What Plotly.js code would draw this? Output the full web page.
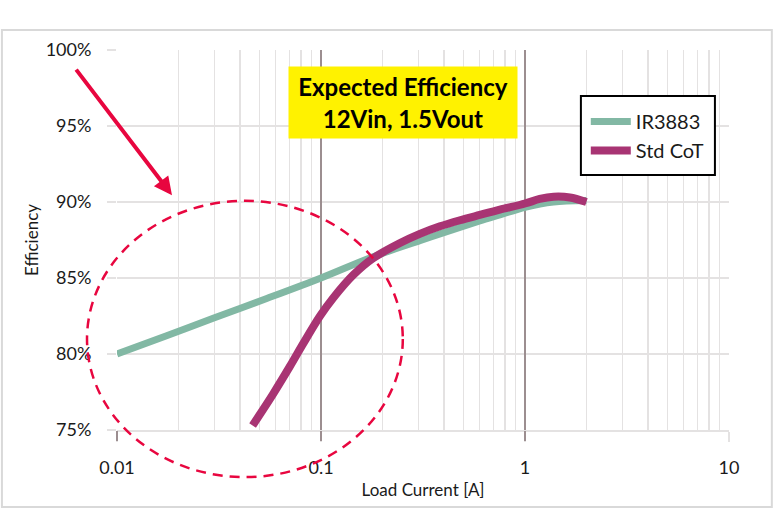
<!DOCTYPE html>
<html>
<head>
<meta charset="utf-8">
<script src="https://cdn.plot.ly/plotly-3.0.1.min.js"></script>
<style>
html,body{margin:0;padding:0;background:#fff;}
#chart{width:775px;height:513px;}
</style>
</head>
<body>
<div id="chart"></div>
<script>
// Data
const irName = 'IR3883';
const irCurrent = [0.01, 0.0175, 0.0296, 0.0542, 0.1, 0.18, 0.305, 0.383, 0.6, 0.753, 1.0, 1.38, 2.0];
const irEff = [80.0, 81.2, 82.35, 83.65, 85.0, 86.4, 87.45, 87.9, 88.75, 89.15, 89.65, 90.0, 90.1];

const cotName = 'Std CoT';
const cotCurrent = [0.0462, 0.0584, 0.0705, 0.0819, 0.0989, 0.115, 0.144, 0.18, 0.244, 0.305, 0.383, 0.48, 0.6, 0.753, 1.0, 1.18, 1.38, 1.66, 2.0];
const cotEff = [75.3, 77.4, 79.2, 80.7, 82.5, 83.7, 85.2, 86.3, 87.3, 87.9, 88.4, 88.8, 89.15, 89.5, 89.9, 90.2, 90.35, 90.3, 90.0];

const majorDecades = [0.01, 0.1, 1];
const xTitle = 'Load Current [A]';
const yTitle = 'Efficiency';
const boxText = '<b>Expected Efficiency</b><br><b>12Vin, 1.5Vout</b>';

const FONT = 'Lato, "Noto Sans", sans-serif';
const TXT = '#1a1a1a';
const LIGHT = '#e4e2e2';
const DARK = '#9c8e90';
const RED = '#e8063f';

const traces = [
  {x: irCurrent, y: irEff, name: irName, type: 'scatter', mode: 'lines',
   line: {color: '#82b8a4', width: 7, shape: 'spline', smoothing: 0.9}},
  {x: cotCurrent, y: cotEff, name: cotName, type: 'scatter', mode: 'lines',
   line: {color: '#a83473', width: 8, shape: 'spline', smoothing: 0.9}},
  {x: [], y: [], xaxis: 'x2', yaxis: 'y', showlegend: false, hoverinfo: 'skip'}
];

const layout = {
  width: 775, height: 513,
  margin: {l: 117, r: 46, t: 50, b: 83},
  paper_bgcolor: '#ffffff', plot_bgcolor: '#ffffff',
  font: {family: FONT, color: TXT, size: 18},
  showlegend: true,
  legend: {x: 0.766, y: 0.863, xanchor: 'left', yanchor: 'top',
           borderwidth: 0, bgcolor: 'rgba(0,0,0,0)', itemwidth: 40,
           font: {family: FONT, size: 20, color: TXT}},
  xaxis: {
    type: 'log', range: [-2, 1], tickmode: 'linear', tick0: 0, dtick: 1,
    exponentformat: 'none',
    showgrid: true, gridcolor: LIGHT, gridwidth: 2,
    minor: {dtick: 'D1', showgrid: true, gridcolor: LIGHT, gridwidth: 1.5, ticks: ''},
    ticks: 'outside', ticklen: 10, tickcolor: LIGHT, tickwidth: 2,
    ticklabelstandoff: 10,
    showline: true, linecolor: LIGHT, linewidth: 2, zeroline: false,
    tickfont: {family: FONT, size: 18, color: TXT},
    title: {text: xTitle, font: {family: FONT, size: 17, color: TXT}, standoff: 8}
  },
  xaxis2: {
    type: 'log', range: [-2, 1], overlaying: 'x', anchor: 'y', side: 'bottom',
    tickmode: 'array', tickvals: majorDecades, showticklabels: false,
    showgrid: true, gridcolor: DARK, gridwidth: 1.5,
    ticks: 'outside', ticklen: 10, tickcolor: DARK, tickwidth: 1.5,
    showline: false, zeroline: false
  },
  yaxis: {
    range: [75, 100], tickmode: 'linear', tick0: 75, dtick: 5, ticksuffix: '%',
    showgrid: true, gridcolor: LIGHT, gridwidth: 2,
    ticks: 'outside', ticklen: 9, tickcolor: LIGHT, tickwidth: 2,
    ticklabelstandoff: 12,
    zeroline: false, showline: false,
    tickfont: {family: FONT, size: 18, color: TXT},
    title: {text: yTitle, font: {family: FONT, size: 17, color: TXT}, standoff: 2}
  },
  shapes: [
    {type: 'rect', xref: 'paper', yref: 'paper', x0: -0.188, x1: 1.070, y0: -0.2026, y1: 1.0526,
     line: {color: '#d9d9d9', width: 2}, layer: 'below'},
    {type: 'circle', xref: 'paper', yref: 'paper', x0: -0.049, x1: 0.467, y0: -0.124, y1: 0.603,
     line: {color: RED, width: 2.5, dash: '10px,7px'}, layer: 'above'},
    {type: 'rect', xref: 'paper', yref: 'paper', x0: 0.758, x1: 0.977, y0: 0.671, y1: 0.879,
     line: {color: '#000', width: 2}, fillcolor: '#fff', layer: 'above'}
  ],
  annotations: [
    {xref: 'paper', yref: 'paper', x: 0.467, y: 0.862, xanchor: 'center', yanchor: 'middle',
     text: boxText, showarrow: false, bgcolor: '#fff200', width: 224, height: 67, borderpad: 2,
     align: 'center', font: {family: FONT, size: 24, color: '#000'}},
    {xref: 'paper', yref: 'paper', x: 0.0899, y: 0.618, text: '', showarrow: true,
     ax: -97, ay: -127, arrowhead: 2, arrowsize: 0.9, arrowwidth: 4, arrowcolor: RED}
  ]
};

Plotly.newPlot('chart', traces, layout, {displayModeBar: false, staticPlot: true});
</script>
</body>
</html>
